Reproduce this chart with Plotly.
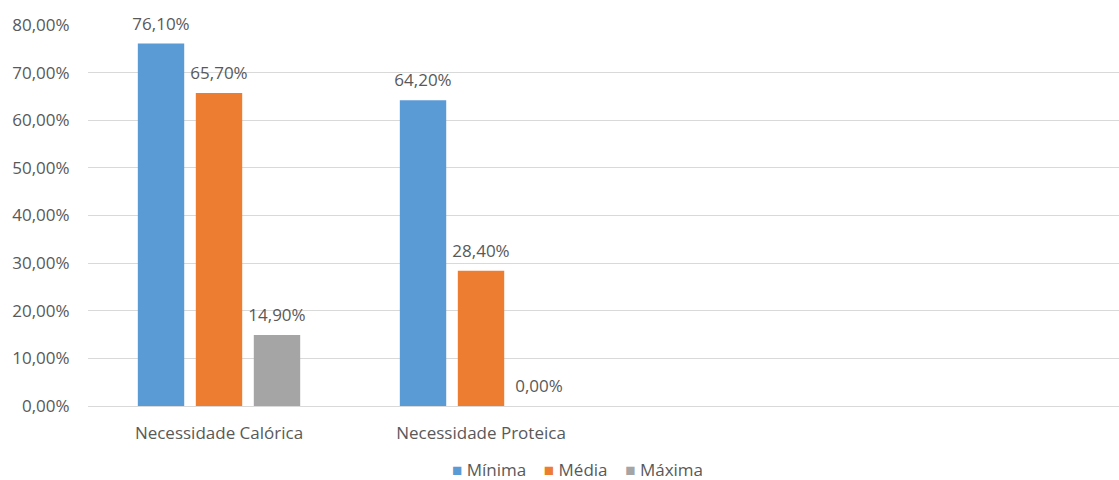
import plotly.graph_objects as go

categories = ["Necessidade Calórica", "Necessidade Proteica"]
series_names = ["Mínima", "Média", "Máxima"]
minima = [76.10, 64.20]
media = [65.70, 28.40]
maxima = [14.90, 0.00]
y_ticks = [0, 10, 20, 30, 40, 50, 60, 70, 80]
y_tick_labels = [f"{v:.2f}%".replace(".", ",") for v in y_ticks]

colors = ["#5B9BD5", "#ED7D31", "#A5A5A5"]
font_family = "Open Sans, Liberation Sans, sans-serif"
text_color = "#595959"
fsize = 17

fig = go.Figure()
for i, (name, vals, col) in enumerate(zip(series_names, [minima, media, maxima], colors)):
    fig.add_trace(go.Bar(
        name=name, x=categories, y=vals, offsetgroup=str(i),
        marker=dict(color=col, line=dict(width=0)),
        showlegend=False,
    ))
for i, (name, vals) in enumerate(zip(series_names, [minima, media, maxima])):
    fig.add_trace(go.Scatter(
        name=name + " rótulo", x=categories, y=vals, offsetgroup=str(i),
        mode="markers+text",
        marker=dict(size=14, opacity=0),
        text=[f"{v:.2f}%".replace(".", ",") for v in vals],
        textposition="top center",
        textfont=dict(color=text_color, size=fsize, family=font_family),
        cliponaxis=False, showlegend=False, hoverinfo="skip",
    ))

legend_text = "&nbsp;&nbsp;&nbsp;&nbsp;".join(
    f"<span style='color:{c}'>■</span> {n}" for n, c in zip(series_names, colors)
)
fig.add_annotation(
    text=legend_text, xref="paper", yref="paper",
    x=(577 - 88) / 1031, y=-63 / 381, xanchor="center", yanchor="middle",
    showarrow=False, font=dict(size=fsize, color=text_color, family=font_family),
)

fig.update_layout(
    width=1119, height=480,
    margin=dict(l=88, r=0, t=25, b=74),
    paper_bgcolor="white", plot_bgcolor="white",
    barmode="group", bargap=0.336, bargroupgap=0.2,
    scattermode="group", scattergap=0.336,
    font=dict(family=font_family, size=fsize, color=text_color),
    showlegend=False,
)
fig.update_xaxes(
    type="category", categoryorder="array", categoryarray=categories,
    range=[-0.5, 3.435],
    showgrid=False, showline=True, linecolor="#d9d9d9", linewidth=1,
    ticks="outside", ticklen=12, tickcolor="rgba(0,0,0,0)",
    tickfont=dict(size=fsize, color=text_color),
    zeroline=False, fixedrange=True,
)
fig.update_yaxes(
    range=[0, 80], tickvals=y_ticks, ticktext=y_tick_labels,
    showgrid=True, gridcolor="#d9d9d9", gridwidth=1,
    zeroline=False, showline=False,
    ticks="outside", ticklen=14, tickcolor="rgba(0,0,0,0)",
    tickfont=dict(size=fsize, color=text_color),
)

fig.write_html("out.html")
